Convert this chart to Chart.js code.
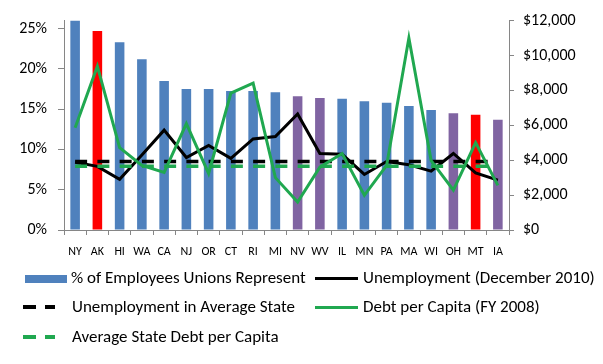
<!DOCTYPE html>
<html>
<head>
<meta charset="utf-8">
<script src="https://cdn.jsdelivr.net/npm/chart.js@4.4.1/dist/chart.umd.min.js"></script>
<style>
  html, body { margin: 0; padding: 0; background: #fff; }
  #wrap { position: relative; width: 603px; height: 364px; overflow: hidden; }
  canvas { position: absolute; left: 0; top: 0; }
  .lg { position: absolute; font-family: Carlito, Lato, "Noto Sans", sans-serif; font-size: 17px; color: #000; line-height: 20px; white-space: nowrap; }
  .mk { position: absolute; }
</style>
</head>
<body>
<div id="wrap">
  <canvas id="c" width="603" height="364"></canvas>
  <div class="mk" style="left:25px;top:275px;width:42px;height:8px;background:#4F81BD"></div>
  <div class="lg" style="left:71px;top:268px">% of Employees Unions Represent</div>
  <div class="mk" style="left:315px;top:277px;width:43px;height:3px;background:#000"></div>
  <div class="lg" style="left:363px;top:268px">Unemployment (December 2010)</div>
  <div class="mk" style="left:23px;top:305px;width:13px;height:3.5px;background:#000"></div>
  <div class="mk" style="left:45px;top:305px;width:10px;height:3.5px;background:#000"></div>
  <div class="lg" style="left:72px;top:297px">Unemployment in Average State</div>
  <div class="mk" style="left:315px;top:306px;width:43px;height:3px;background:#20A850"></div>
  <div class="lg" style="left:363px;top:297px">Debt per Capita (FY 2008)</div>
  <div class="mk" style="left:23px;top:335px;width:13px;height:3.5px;background:#20A850"></div>
  <div class="mk" style="left:45px;top:335px;width:10px;height:3.5px;background:#20A850"></div>
  <div class="lg" style="left:72px;top:327px">Average State Debt per Capita</div>
</div>
<script>
const states = ['NY','AK','HI','WA','CA','NJ','OR','CT','RI','MI','NV','WV','IL','MN','PA','MA','WI','OH','MT','IA'];
const unionShare = [0.26, 0.247, 0.233, 0.212, 0.185, 0.175, 0.175, 0.1725, 0.1725, 0.171, 0.166, 0.164, 0.163, 0.160, 0.158, 0.154, 0.149, 0.145, 0.143, 0.137];
const unemployment = [0.084, 0.079, 0.063, 0.093, 0.124, 0.090, 0.105, 0.089, 0.113, 0.116, 0.144, 0.095, 0.094, 0.069, 0.085, 0.081, 0.073, 0.095, 0.071, 0.062];
const avgUnemployment = 0.085;
const debtPerCapita = [5860, 9390, 4720, 3700, 3300, 6090, 3240, 7850, 8420, 3000, 1600, 3600, 4380, 1990, 3700, 11000, 3980, 2280, 5010, 2560];
const avgDebt = 3650;
const pctTicks = [0, 0.05, 0.10, 0.15, 0.20, 0.25];
const dollarTicks = [0, 2000, 4000, 6000, 8000, 10000, 12000];
const redStates = ['AK', 'MT'];
const purpleStates = ['NV', 'WV', 'OH', 'IA'];

const BLUE = '#4F81BD', RED = '#FF0000', PURPLE = '#8064A2', GREEN = '#20A850', AXIS = '#868686';
const barColors = states.map(s => redStates.includes(s) ? RED : (purpleStates.includes(s) ? PURPLE : BLUE));

const tickFont = { family: 'Carlito, Lato, "Noto Sans", sans-serif', size: 16 };

new Chart(document.getElementById('c'), {
  data: {
    labels: states,
    datasets: [
      { type: 'bar', label: '% of Employees Unions Represent', data: unionShare, backgroundColor: barColors,
        yAxisID: 'y', barPercentage: 0.43, categoryPercentage: 1, order: 10 },
      { type: 'line', label: 'Unemployment (December 2010)', data: unemployment, borderColor: '#000', borderWidth: 3,
        pointRadius: 0, tension: 0, yAxisID: 'y', order: 4 },
      { type: 'line', label: 'Unemployment in Average State', data: states.map(() => avgUnemployment), borderColor: '#000',
        borderWidth: 3.5, borderDash: [12, 10.25], pointRadius: 0, yAxisID: 'y', order: 3 },
      { type: 'line', label: 'Average State Debt per Capita', data: states.map(() => avgDebt), borderColor: GREEN,
        borderWidth: 3.5, borderDash: [12, 10.25], pointRadius: 0, yAxisID: 'y1', order: 2 },
      { type: 'line', label: 'Debt per Capita (FY 2008)', data: debtPerCapita, borderColor: GREEN, borderWidth: 3,
        pointRadius: 0, tension: 0, yAxisID: 'y1', order: 1 }
    ]
  },
  options: {
    responsive: false,
    devicePixelRatio: 1,
    animation: false,
    layout: { padding: { top: 19.5, left: 0, right: 0, bottom: 0 } },
    plugins: { legend: { display: false }, tooltip: { enabled: false } },
    scales: {
      x: {
        offset: true,
        grid: { display: true, offset: true, drawOnChartArea: false, drawTicks: true, tickLength: 5, color: AXIS },
        border: { display: true, color: AXIS, width: 1 },
        ticks: { color: '#000', font: { family: 'Carlito, Lato, "Noto Sans", sans-serif', size: 12 }, padding: 10, maxRotation: 0, autoSkip: false },
        afterFit: s => { s.height = 134; }
      },
      y: {
        position: 'left', min: 0, max: 0.26,
        grid: { display: true, drawOnChartArea: false, drawTicks: true, tickLength: 6, color: AXIS },
        border: { display: true, color: AXIS, width: 1 },
        ticks: { includeBounds: false, color: '#000', font: tickFont, padding: 11, callback: v => Math.round(v * 100) + '%' },
        afterBuildTicks: s => { s.ticks = pctTicks.map(v => ({ value: v })); },
        afterFit: s => { s.width = 64; }
      },
      y1: {
        position: 'right', min: 0, max: 12000,
        grid: { display: true, drawOnChartArea: false, drawTicks: true, tickLength: 5, color: AXIS },
        border: { display: true, color: AXIS, width: 1 },
        ticks: { color: '#000', font: tickFont, padding: 9, callback: v => '$' + v.toLocaleString('en-US') },
        afterBuildTicks: s => { s.ticks = dollarTicks.map(v => ({ value: v })); },
        afterFit: s => { s.width = 94; }
      }
    }
  }
});
</script>
</body>
</html>
